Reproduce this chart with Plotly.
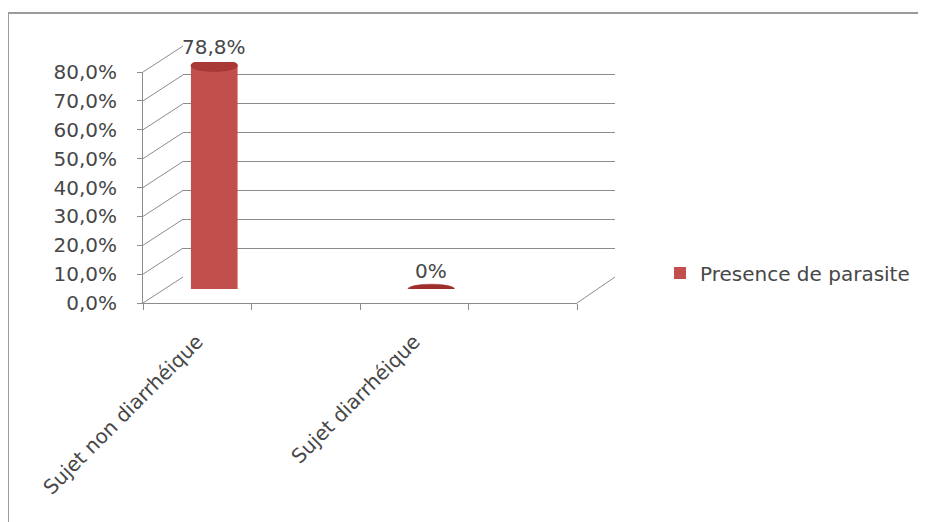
import plotly.graph_objects as go

# ---- data ----
categories = ["Sujet non diarrhéique", "Sujet diarrhéique"]
values = [78.8, 0.0]
data_labels = ["78,8%", "0%"]
series_name = "Presence de parasite"
y_ticks = [0, 10, 20, 30, 40, 50, 60, 70, 80]
y_tick_labels = ["0,0%", "10,0%", "20,0%", "30,0%", "40,0%", "50,0%", "60,0%", "70,0%", "80,0%"]

W, H = 926, 522
OFF = 8  # page body margin of the written html
FONT = "DejaVu Sans"
FS = 20
TXT = "#474747"
GRID = "#8c8c8c"
BAR = "#C24F4C"
CAP = "#A83936"

def fx(p):
    return (p - OFF) / W

def fy(p):
    return 1 - (p - OFF) / H

# planes (page-pixel geometry of the pseudo-3D box)
FRONT = dict(x0=143, x1=577, y0=303, y1=72)
MID = dict(x0=160, x1=594, y0=289, y1=62)
BACK = dict(x0=183, x1=615, y0=277, y1=46)
YMAX = 80

# category slots: the Excel chart had an empty slot after each category
slots = [categories[0], " ", categories[1], "  "]

fig = go.Figure()

fig.add_trace(go.Scatter(x=[None], y=[None], xaxis="x", yaxis="y", showlegend=False, hoverinfo="skip"))
fig.add_trace(go.Scatter(x=[None], y=[None], xaxis="x3", yaxis="y3", showlegend=False, hoverinfo="skip"))

fig.add_trace(go.Bar(
    x=categories, y=values, name=series_name,
    xaxis="x2", yaxis="y2",
    marker=dict(color=BAR, line=dict(width=0)),
    width=0.43, cliponaxis=False,
))

shapes = []
annotations = []
bw = 0.43
mid_scale = (MID["y0"] - MID["y1"]) / YMAX
cap_half = 6 / mid_scale
for cat, v, lab in zip(categories, values, data_labels):
    i = slots.index(cat)
    if v > 0:
        shapes.append(dict(type="circle", xref="x2", yref="y2", x0=i - bw / 2, x1=i + bw / 2,
                           y0=-cap_half, y1=cap_half, fillcolor=BAR, line=dict(width=0), layer="above"))
        shapes.append(dict(type="circle", xref="x2", yref="y2", x0=i - bw / 2, x1=i + bw / 2,
                           y0=v - cap_half, y1=v + cap_half,
                           fillcolor=CAP, line=dict(width=0.5, color="#9E2E2B"), layer="above"))
    else:
        shapes.append(dict(type="circle", xref="x2", yref="y2", x0=i - bw / 2, x1=i + bw / 2,
                           y0=v - cap_half * 0.8, y1=v + cap_half * 0.8,
                           fillcolor="#9E2E2B", line=dict(width=0.5, color="#9E2E2B"), layer="above"))
    annotations.append(dict(x=i, y=v, xref="x2", yref="y2", text=lab, showarrow=False,
                            yanchor="bottom", yshift=4, font=dict(family=FONT, size=FS, color=TXT)))

for t in y_ticks:
    yf = FRONT["y0"] - (FRONT["y0"] - FRONT["y1"]) * t / YMAX
    yb = BACK["y0"] - (BACK["y0"] - BACK["y1"]) * t / YMAX
    shapes.append(dict(type="line", xref="paper", yref="paper",
                       x0=fx(FRONT["x0"]), y0=fy(yf), x1=fx(BACK["x0"]), y1=fy(yb),
                       line=dict(color=GRID, width=1), layer="below"))
shapes.append(dict(type="line", xref="paper", yref="paper",
                   x0=fx(FRONT["x1"]), y0=fy(FRONT["y0"]), x1=fx(BACK["x1"]), y1=fy(BACK["y0"]),
                   line=dict(color=GRID, width=1), layer="below"))
shapes.append(dict(type="rect", xref="paper", yref="paper",
                   x0=fx(8), y0=fy(13), x1=fx(960), y1=fy(560),
                   line=dict(color="#9a9a9a", width=2), layer="below"))

fig.update_layout(
    template="none",
    width=W, height=H, autosize=False,
    margin=dict(l=0, r=0, t=0, b=0, pad=0),
    paper_bgcolor="white", plot_bgcolor="rgba(0,0,0,0)",
    font=dict(family=FONT, size=FS, color=TXT),
    showlegend=True,
    legend=dict(x=fx(660), y=fy(273), xanchor="left", yanchor="middle",
                font=dict(family=FONT, size=FS, color=TXT), bgcolor="rgba(0,0,0,0)"),
    shapes=shapes,
    annotations=annotations,
    xaxis=dict(domain=[fx(BACK["x0"]), fx(BACK["x1"])], visible=False, range=[0, 1],
               automargin=False),
    yaxis=dict(domain=[fy(BACK["y0"]), fy(BACK["y1"])], range=[0, YMAX], tickvals=y_ticks,
               showgrid=True, gridcolor=GRID, gridwidth=1, zeroline=False,
               showticklabels=False, ticks="", showline=False, automargin=False),
    xaxis2=dict(domain=[fx(MID["x0"]), fx(MID["x1"])], type="category",
                categoryorder="array", categoryarray=slots, range=[-0.5, 3.5],
                visible=False, anchor="y2", automargin=False),
    yaxis2=dict(domain=[fy(MID["y0"]), fy(MID["y1"])], range=[0, YMAX], visible=False,
                anchor="x2", automargin=False),
    xaxis3=dict(domain=[fx(FRONT["x0"]), fx(FRONT["x1"])], type="category",
                categoryorder="array", categoryarray=slots, range=[-0.5, 3.5],
                tickson="boundaries", ticks="outside", ticklen=6, tickcolor=GRID,
                showline=True, linecolor=GRID, linewidth=1, showgrid=False, zeroline=False,
                tickangle=-45, ticklabelstandoff=18,
                tickfont=dict(family=FONT, size=FS, color=TXT), anchor="y3",
                automargin=False),
    yaxis3=dict(domain=[fy(FRONT["y0"]), fy(FRONT["y1"])], range=[0, YMAX],
                tickmode="array", tickvals=y_ticks, ticktext=y_tick_labels,
                ticks="outside", ticklen=5, tickcolor=GRID, ticklabelstandoff=16,
                showline=True, linecolor=GRID, linewidth=1, showgrid=False, zeroline=False,
                tickfont=dict(family=FONT, size=FS, color=TXT), anchor="x3", automargin=False),
)

fig.write_html("out.html")
